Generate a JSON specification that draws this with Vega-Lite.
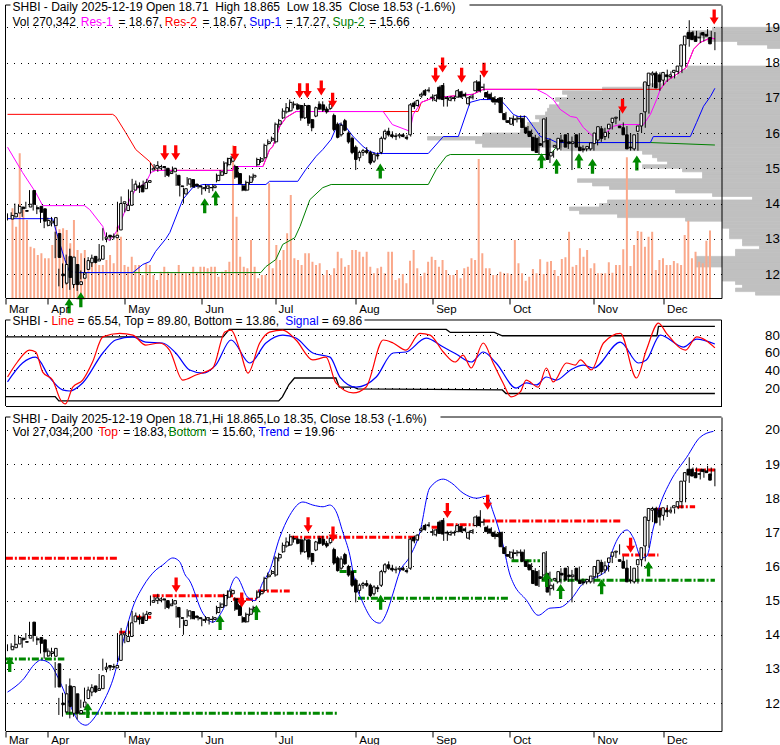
{
"$schema": "https://vega.github.io/schema/vega-lite/v6.json",
"autosize": {"type": "pad"},
"padding": {"left": 2.5, "top": 1, "right": 0, "bottom": 0},
"background": "white",
"spacing": 11,
"bounds": "flush",
"config": {
 "view": {"stroke": null},
 "axis": {"domainColor": "black", "tickColor": "black", "labelColor": "black", "labelFont": "Liberation Sans", "gridColor": "black", "gridDash": [1, 6], "gridOpacity": 1, "gridWidth": 1, "domainWidth": 1},
 "text": {"font": "Liberation Sans", "fontSize": 12}
},
"datasets": {
"d": [
{"i":0,"o":13.56,"h":13.72,"l":13.52,"c":13.66,"v":359},
{"i":1,"o":13.62,"h":13.75,"l":13.6,"c":13.72,"v":285},
{"i":2,"o":13.73,"h":14.0,"l":13.7,"c":13.92,"v":579},
{"i":3,"o":13.9,"h":13.98,"l":13.82,"c":13.85,"v":352},
{"i":4,"o":13.8,"h":13.85,"l":13.62,"c":13.78,"v":312},
{"i":5,"o":13.9,"h":14.05,"l":13.85,"c":13.98,"v":205},
{"i":6,"o":14.37,"h":14.38,"l":13.9,"c":13.98,"v":199},
{"i":7,"o":13.88,"h":14.0,"l":13.8,"c":13.85,"v":172},
{"i":8,"o":13.92,"h":13.95,"l":13.7,"c":13.75,"v":179},
{"i":9,"o":13.85,"h":13.9,"l":13.45,"c":13.5,"v":159},
{"i":10,"o":13.38,"h":13.55,"l":13.3,"c":13.52,"v":159},
{"i":11,"o":13.45,"h":13.6,"l":13.35,"c":13.5,"v":212},
{"i":12,"o":13.37,"h":13.62,"l":13.35,"c":13.6,"v":285},
{"i":13,"o":13.15,"h":13.2,"l":12.45,"c":12.47,"v":275},
{"i":14,"o":12.0,"h":12.15,"l":11.65,"c":11.95,"v":279},
{"i":15,"o":11.74,"h":12.3,"l":11.6,"c":12.27,"v":272},
{"i":16,"o":12.5,"h":12.55,"l":11.7,"c":11.9,"v":219},
{"i":17,"o":11.7,"h":12.72,"l":11.55,"c":12.48,"v":312},
{"i":18,"o":12.27,"h":12.35,"l":11.6,"c":11.7,"v":192},
{"i":19,"o":11.7,"h":11.8,"l":11.52,"c":11.78,"v":179},
{"i":20,"o":11.88,"h":12.1,"l":11.85,"c":12.03,"v":192},
{"i":21,"o":12.13,"h":12.45,"l":12.05,"c":12.38,"v":132},
{"i":22,"o":12.32,"h":12.48,"l":12.25,"c":12.45,"v":152},
{"i":23,"o":12.5,"h":12.55,"l":12.2,"c":12.33,"v":139},
{"i":24,"o":12.37,"h":12.45,"l":12.3,"c":12.42,"v":132},
{"i":25,"o":12.42,"h":12.85,"l":12.4,"c":12.8,"v":132},
{"i":26,"o":13.0,"h":13.3,"l":12.95,"c":13.05,"v":152},
{"i":27,"o":13.1,"h":13.18,"l":12.9,"c":13.05,"v":172},
{"i":28,"o":13.05,"h":13.1,"l":12.95,"c":13.07,"v":139},
{"i":29,"o":13.03,"h":13.15,"l":12.98,"c":13.1,"v":285},
{"i":30,"o":13.25,"h":14.05,"l":13.2,"c":14.0,"v":245},
{"i":31,"o":14.0,"h":14.2,"l":13.9,"c":14.05,"v":132},
{"i":32,"o":13.8,"h":14.0,"l":13.75,"c":13.95,"v":125},
{"i":33,"o":13.95,"h":14.4,"l":13.9,"c":14.35,"v":165},
{"i":34,"o":14.38,"h":14.7,"l":14.35,"c":14.55,"v":132},
{"i":35,"o":14.5,"h":14.65,"l":14.4,"c":14.45,"v":132},
{"i":36,"o":14.52,"h":14.6,"l":14.3,"c":14.33,"v":92},
{"i":37,"o":14.42,"h":14.65,"l":14.4,"c":14.6,"v":139},
{"i":38,"o":14.6,"h":14.7,"l":14.55,"c":14.65,"v":132},
{"i":39,"o":14.95,"h":15.15,"l":14.85,"c":15.0,"v":92},
{"i":40,"o":15.0,"h":15.12,"l":14.95,"c":15.08,"v":72},
{"i":41,"o":15.0,"h":15.2,"l":14.9,"c":15.05,"v":105},
{"i":42,"o":15.05,"h":15.1,"l":14.95,"c":15.02,"v":125},
{"i":43,"o":15.0,"h":15.05,"l":14.75,"c":14.8,"v":105},
{"i":44,"o":14.85,"h":14.95,"l":14.75,"c":14.9,"v":99},
{"i":45,"o":14.9,"h":15.05,"l":14.85,"c":15.0,"v":99},
{"i":46,"o":14.8,"h":14.85,"l":14.5,"c":14.52,"v":132},
{"i":47,"o":14.5,"h":14.55,"l":14.2,"c":14.48,"v":99},
{"i":48,"o":14.27,"h":14.45,"l":14.0,"c":14.42,"v":99},
{"i":49,"o":14.55,"h":14.75,"l":14.5,"c":14.7,"v":99},
{"i":50,"o":14.68,"h":14.7,"l":14.45,"c":14.47,"v":125},
{"i":51,"o":14.55,"h":14.6,"l":14.45,"c":14.5,"v":105},
{"i":52,"o":14.5,"h":14.55,"l":14.42,"c":14.47,"v":125},
{"i":53,"o":14.42,"h":14.5,"l":14.25,"c":14.45,"v":125},
{"i":54,"o":14.43,"h":14.55,"l":14.35,"c":14.5,"v":119},
{"i":55,"o":14.45,"h":14.52,"l":14.3,"c":14.45,"v":125},
{"i":56,"o":14.45,"h":14.55,"l":14.35,"c":14.5,"v":125},
{"i":57,"o":14.65,"h":14.85,"l":14.6,"c":14.8,"v":85},
{"i":58,"o":14.8,"h":14.95,"l":14.78,"c":14.9,"v":105},
{"i":59,"o":14.85,"h":15.2,"l":14.8,"c":15.15,"v":112},
{"i":60,"o":15.1,"h":15.3,"l":15.05,"c":15.28,"v":145},
{"i":61,"o":15.2,"h":15.35,"l":15.15,"c":15.3,"v":610},
{"i":62,"o":15.05,"h":15.1,"l":14.7,"c":14.75,"v":325},
{"i":63,"o":14.85,"h":14.9,"l":14.55,"c":14.57,"v":165},
{"i":64,"o":14.5,"h":14.55,"l":14.35,"c":14.38,"v":125},
{"i":65,"o":14.38,"h":14.65,"l":14.35,"c":14.6,"v":119},
{"i":66,"o":14.6,"h":14.8,"l":14.55,"c":14.75,"v":232},
{"i":67,"o":14.75,"h":14.85,"l":14.65,"c":14.8,"v":125},
{"i":68,"o":15.1,"h":15.3,"l":15.05,"c":15.25,"v":79},
{"i":69,"o":15.2,"h":15.32,"l":15.15,"c":15.27,"v":92},
{"i":70,"o":15.3,"h":15.7,"l":15.25,"c":15.65,"v":92},
{"i":71,"o":15.7,"h":15.82,"l":15.65,"c":15.75,"v":459},
{"i":72,"o":15.8,"h":15.9,"l":15.75,"c":15.85,"v":119},
{"i":73,"o":15.75,"h":16.3,"l":15.7,"c":16.25,"v":212},
{"i":74,"o":16.25,"h":16.4,"l":16.15,"c":16.35,"v":152},
{"i":75,"o":16.43,"h":16.7,"l":16.4,"c":16.62,"v":192},
{"i":76,"o":16.6,"h":16.85,"l":16.55,"c":16.72,"v":259},
{"i":77,"o":16.63,"h":16.95,"l":16.6,"c":16.87,"v":412},
{"i":78,"o":16.8,"h":16.9,"l":16.7,"c":16.82,"v":159},
{"i":79,"o":16.8,"h":16.85,"l":16.65,"c":16.68,"v":152},
{"i":80,"o":16.78,"h":16.8,"l":16.35,"c":16.43,"v":132},
{"i":81,"o":16.43,"h":16.85,"l":16.4,"c":16.78,"v":179},
{"i":82,"o":16.78,"h":16.8,"l":16.2,"c":16.28,"v":179},
{"i":83,"o":16.38,"h":16.4,"l":16.05,"c":16.15,"v":145},
{"i":84,"o":16.48,"h":16.75,"l":16.45,"c":16.72,"v":132},
{"i":85,"o":16.82,"h":16.9,"l":16.65,"c":16.68,"v":139},
{"i":86,"o":16.8,"h":16.9,"l":16.6,"c":16.65,"v":92},
{"i":87,"o":16.68,"h":16.75,"l":16.55,"c":16.6,"v":112},
{"i":88,"o":16.7,"h":16.88,"l":16.65,"c":16.82,"v":92},
{"i":89,"o":16.5,"h":16.55,"l":16.05,"c":16.1,"v":119},
{"i":90,"o":16.25,"h":16.3,"l":15.85,"c":15.88,"v":185},
{"i":91,"o":15.95,"h":16.3,"l":15.9,"c":16.22,"v":159},
{"i":92,"o":16.35,"h":16.4,"l":16.05,"c":16.08,"v":125},
{"i":93,"o":16.0,"h":16.05,"l":15.7,"c":15.75,"v":132},
{"i":94,"o":15.85,"h":15.9,"l":15.4,"c":15.45,"v":192},
{"i":95,"o":15.6,"h":15.65,"l":14.95,"c":15.25,"v":192},
{"i":96,"o":15.3,"h":15.5,"l":15.2,"c":15.45,"v":185},
{"i":97,"o":15.45,"h":15.55,"l":15.35,"c":15.5,"v":165},
{"i":98,"o":15.5,"h":15.6,"l":15.4,"c":15.45,"v":185},
{"i":99,"o":15.45,"h":15.5,"l":15.1,"c":15.15,"v":125},
{"i":100,"o":15.2,"h":15.45,"l":15.15,"c":15.4,"v":99},
{"i":101,"o":15.38,"h":15.45,"l":15.25,"c":15.35,"v":119},
{"i":102,"o":15.45,"h":15.9,"l":15.4,"c":15.85,"v":125},
{"i":103,"o":15.85,"h":16.1,"l":15.8,"c":16.05,"v":99},
{"i":104,"o":16.05,"h":16.15,"l":15.9,"c":15.95,"v":185},
{"i":105,"o":15.95,"h":16.05,"l":15.85,"c":15.9,"v":185},
{"i":106,"o":15.9,"h":16.0,"l":15.8,"c":15.92,"v":72},
{"i":107,"o":15.92,"h":15.97,"l":15.85,"c":15.95,"v":79},
{"i":108,"o":15.95,"h":16.0,"l":15.88,"c":15.9,"v":96},
{"i":109,"o":15.88,"h":15.95,"l":15.8,"c":15.85,"v":59},
{"i":110,"o":15.95,"h":16.85,"l":15.9,"c":16.8,"v":149},
{"i":111,"o":16.85,"h":16.9,"l":16.68,"c":16.75,"v":192},
{"i":112,"o":16.78,"h":16.95,"l":16.75,"c":16.92,"v":119},
{"i":113,"o":17.05,"h":17.15,"l":17.0,"c":17.1,"v":88},
{"i":114,"o":17.2,"h":17.25,"l":17.05,"c":17.08,"v":101},
{"i":115,"o":17.2,"h":17.3,"l":17.15,"c":17.22,"v":145},
{"i":116,"o":17.0,"h":17.1,"l":16.9,"c":17.02,"v":165},
{"i":117,"o":16.93,"h":17.1,"l":16.88,"c":17.07,"v":152},
{"i":118,"o":17.3,"h":17.35,"l":16.95,"c":16.97,"v":125},
{"i":119,"o":17.35,"h":17.42,"l":16.75,"c":16.95,"v":152},
{"i":120,"o":17.0,"h":17.05,"l":16.75,"c":16.98,"v":112},
{"i":121,"o":16.93,"h":17.05,"l":16.9,"c":17.0,"v":92},
{"i":122,"o":17.0,"h":17.05,"l":16.9,"c":16.98,"v":92},
{"i":123,"o":17.02,"h":17.25,"l":17.0,"c":17.2,"v":112},
{"i":124,"o":17.17,"h":17.2,"l":16.98,"c":17.02,"v":79},
{"i":125,"o":17.1,"h":17.15,"l":17.0,"c":17.05,"v":119},
{"i":126,"o":16.83,"h":17.05,"l":16.78,"c":17.0,"v":125},
{"i":127,"o":17.0,"h":17.1,"l":16.95,"c":17.05,"v":159},
{"i":128,"o":17.2,"h":17.5,"l":17.15,"c":17.45,"v":152},
{"i":129,"o":17.45,"h":17.65,"l":17.15,"c":17.2,"v":556},
{"i":130,"o":17.3,"h":17.4,"l":17.2,"c":17.3,"v":179},
{"i":131,"o":17.15,"h":17.2,"l":16.95,"c":17.02,"v":119},
{"i":132,"o":17.1,"h":17.15,"l":16.9,"c":16.98,"v":119},
{"i":133,"o":17.0,"h":17.05,"l":16.8,"c":16.88,"v":92},
{"i":134,"o":16.95,"h":17.0,"l":16.85,"c":16.88,"v":92},
{"i":135,"o":17.0,"h":17.02,"l":16.55,"c":16.58,"v":105},
{"i":136,"o":16.55,"h":16.6,"l":16.3,"c":16.38,"v":99},
{"i":137,"o":16.35,"h":16.45,"l":16.25,"c":16.3,"v":99},
{"i":138,"o":16.25,"h":16.5,"l":16.2,"c":16.42,"v":96},
{"i":139,"o":16.38,"h":16.48,"l":16.3,"c":16.4,"v":232},
{"i":140,"o":16.4,"h":16.5,"l":16.3,"c":16.42,"v":139},
{"i":141,"o":16.42,"h":16.5,"l":16.1,"c":16.15,"v":99},
{"i":142,"o":16.15,"h":16.2,"l":15.95,"c":16.0,"v":69},
{"i":143,"o":16.05,"h":16.1,"l":15.85,"c":15.9,"v":85},
{"i":144,"o":15.88,"h":15.95,"l":15.45,"c":15.5,"v":116},
{"i":145,"o":15.85,"h":15.9,"l":15.4,"c":15.45,"v":99},
{"i":146,"o":15.7,"h":15.85,"l":15.6,"c":15.65,"v":155},
{"i":147,"o":15.75,"h":16.45,"l":15.7,"c":16.4,"v":96},
{"i":148,"o":15.8,"h":15.85,"l":15.15,"c":15.25,"v":145},
{"i":149,"o":15.35,"h":15.5,"l":15.3,"c":15.45,"v":148},
{"i":150,"o":15.6,"h":15.7,"l":15.5,"c":15.65,"v":112},
{"i":151,"o":15.55,"h":15.95,"l":15.5,"c":15.85,"v":88},
{"i":152,"o":15.8,"h":15.9,"l":15.7,"c":15.75,"v":156},
{"i":153,"o":15.95,"h":16.0,"l":15.55,"c":15.6,"v":163},
{"i":154,"o":15.75,"h":15.9,"l":14.95,"c":15.7,"v":265},
{"i":155,"o":15.7,"h":15.85,"l":15.6,"c":15.75,"v":125},
{"i":156,"o":15.95,"h":16.0,"l":15.55,"c":15.6,"v":132},
{"i":157,"o":15.6,"h":15.65,"l":15.45,"c":15.5,"v":199},
{"i":158,"o":15.55,"h":15.6,"l":15.48,"c":15.52,"v":165},
{"i":159,"o":15.55,"h":15.7,"l":15.5,"c":15.62,"v":192},
{"i":160,"o":15.55,"h":15.75,"l":15.5,"c":15.72,"v":119},
{"i":161,"o":15.7,"h":16.05,"l":15.65,"c":16.0,"v":139},
{"i":162,"o":15.8,"h":16.2,"l":15.75,"c":16.18,"v":99},
{"i":163,"o":16.12,"h":16.15,"l":15.8,"c":15.85,"v":99},
{"i":164,"o":15.9,"h":16.05,"l":15.85,"c":16.02,"v":99},
{"i":165,"o":16.12,"h":16.3,"l":16.1,"c":16.25,"v":143},
{"i":166,"o":16.3,"h":16.45,"l":16.25,"c":16.42,"v":101},
{"i":167,"o":16.42,"h":16.65,"l":16.35,"c":16.45,"v":132},
{"i":168,"o":16.2,"h":16.3,"l":16.1,"c":16.15,"v":132},
{"i":169,"o":16.15,"h":16.2,"l":15.9,"c":15.95,"v":195},
{"i":170,"o":15.95,"h":16.0,"l":15.5,"c":15.55,"v":563},
{"i":171,"o":15.6,"h":15.65,"l":15.5,"c":15.58,"v":128},
{"i":172,"o":15.55,"h":16.0,"l":15.5,"c":15.95,"v":212},
{"i":173,"o":16.05,"h":16.3,"l":16.0,"c":16.2,"v":268},
{"i":174,"o":16.2,"h":16.65,"l":16.15,"c":16.55,"v":265},
{"i":175,"o":16.6,"h":17.5,"l":16.55,"c":17.45,"v":205},
{"i":176,"o":17.35,"h":17.75,"l":17.3,"c":17.7,"v":245},
{"i":177,"o":17.65,"h":17.75,"l":17.55,"c":17.7,"v":265},
{"i":178,"o":17.7,"h":17.72,"l":17.2,"c":17.28,"v":112},
{"i":179,"o":17.65,"h":17.7,"l":17.35,"c":17.45,"v":152},
{"i":180,"o":17.5,"h":17.8,"l":17.45,"c":17.72,"v":159},
{"i":181,"o":17.65,"h":17.75,"l":17.55,"c":17.6,"v":132},
{"i":182,"o":17.6,"h":17.7,"l":17.55,"c":17.65,"v":132},
{"i":183,"o":17.72,"h":17.85,"l":17.68,"c":17.78,"v":148},
{"i":184,"o":17.75,"h":18.0,"l":17.7,"c":17.9,"v":139},
{"i":185,"o":17.9,"h":18.55,"l":17.88,"c":18.5,"v":132},
{"i":186,"o":18.5,"h":19.2,"l":18.45,"c":18.75,"v":252},
{"i":187,"o":18.85,"h":18.9,"l":18.65,"c":18.68,"v":309},
{"i":188,"o":18.85,"h":18.9,"l":18.6,"c":18.65,"v":159},
{"i":189,"o":18.75,"h":18.85,"l":18.55,"c":18.6,"v":185},
{"i":190,"o":18.7,"h":18.8,"l":18.6,"c":18.72,"v":145},
{"i":191,"o":18.85,"h":18.95,"l":18.75,"c":18.78,"v":139},
{"i":192,"o":18.8,"h":18.9,"l":18.65,"c":18.75,"v":229},
{"i":193,"o":18.71,"h":18.865,"l":18.35,"c":18.53,"v":270}
],
"prof": [
{"p1":18.9,"p2":19.0,"len":70},{"p1":18.8,"p2":18.9,"len":95},{"p1":18.7,"p2":18.8,"len":95},{"p1":18.6,"p2":18.7,"len":75},{"p1":18.5,"p2":18.6,"len":45},{"p1":18.4,"p2":18.5,"len":15},
{"p1":17.8,"p2":17.9,"len":95},{"p1":17.7,"p2":17.8,"len":100},{"p1":17.6,"p2":17.7,"len":105},{"p1":17.5,"p2":17.6,"len":115},{"p1":17.4,"p2":17.5,"len":120},{"p1":17.3,"p2":17.4,"len":140},{"p1":17.2,"p2":17.3,"len":180},{"p1":17.1,"p2":17.2,"len":220},{"p1":17.0,"p2":17.1,"len":215},{"p1":16.9,"p2":17.0,"len":227},{"p1":16.8,"p2":16.9,"len":223},{"p1":16.7,"p2":16.8,"len":233},{"p1":16.6,"p2":16.7,"len":235},{"p1":16.5,"p2":16.6,"len":237},{"p1":16.4,"p2":16.5,"len":247},{"p1":16.3,"p2":16.4,"len":243},{"p1":16.2,"p2":16.3,"len":255},{"p1":16.1,"p2":16.2,"len":258},{"p1":16.0,"p2":16.1,"len":262},{"p1":15.9,"p2":16.0,"len":300},{"p1":15.8,"p2":15.9,"len":355},{"p1":15.7,"p2":15.8,"len":307},{"p1":15.6,"p2":15.7,"len":300},{"p1":15.5,"p2":15.6,"len":220},{"p1":15.4,"p2":15.5,"len":140},{"p1":15.3,"p2":15.4,"len":130},{"p1":15.2,"p2":15.3,"len":125},{"p1":15.1,"p2":15.2,"len":115},{"p1":15.0,"p2":15.1,"len":140},{"p1":14.9,"p2":15.0,"len":100},{"p1":14.8,"p2":14.9,"len":80},{"p1":14.7,"p2":14.8,"len":80},{"p1":14.6,"p2":14.7,"len":205},{"p1":14.5,"p2":14.6,"len":190},{"p1":14.4,"p2":14.5,"len":173},{"p1":14.3,"p2":14.4,"len":107},{"p1":14.2,"p2":14.3,"len":70},{"p1":14.1,"p2":14.2,"len":30},{"p1":14.0,"p2":14.1,"len":175},{"p1":13.9,"p2":14.0,"len":183},{"p1":13.8,"p2":13.9,"len":213},{"p1":13.7,"p2":13.8,"len":203},{"p1":13.6,"p2":13.7,"len":165},{"p1":13.5,"p2":13.6,"len":97},{"p1":13.4,"p2":13.5,"len":60},{"p1":13.3,"p2":13.4,"len":60},{"p1":13.2,"p2":13.3,"len":53},{"p1":13.1,"p2":13.2,"len":53},{"p1":13.0,"p2":13.1,"len":53},{"p1":12.9,"p2":13.0,"len":40},{"p1":12.8,"p2":12.9,"len":40},{"p1":12.7,"p2":12.8,"len":23},{"p1":12.6,"p2":12.7,"len":47},{"p1":12.5,"p2":12.6,"len":47},{"p1":12.4,"p2":12.5,"len":87},{"p1":12.3,"p2":12.4,"len":87},{"p1":12.2,"p2":12.3,"len":87},{"p1":12.1,"p2":12.2,"len":60},{"p1":12.0,"p2":12.1,"len":60},{"p1":11.9,"p2":12.0,"len":60},{"p1":11.8,"p2":11.9,"len":60},{"p1":11.7,"p2":11.8,"len":47},{"p1":11.6,"p2":11.7,"len":40},{"p1":11.5,"p2":11.6,"len":47},{"p1":11.4,"p2":11.5,"len":27}
],
"ind": [
{"i":0,"p":15.6,"s":"Res-1"},{"i":4.1,"p":14.88,"s":"Res-1"},{"i":7.7,"p":14.31,"s":"Res-1"},{"i":9.6,"p":13.94,"s":"Res-1"},{"i":21,"p":13.94,"s":"Res-1"},{"i":22.4,"p":13.83,"s":"Res-1"},{"i":26,"p":13.35,"s":"Res-1"},{"i":26.8,"p":13.03,"s":"Res-1"},{"i":27.8,"p":12.95,"s":"Res-1"},{"i":29.2,"p":13.12,"s":"Res-1"},{"i":30,"p":13.26,"s":"Res-1"},{"i":33.3,"p":14.11,"s":"Res-1"},{"i":35,"p":14.4,"s":"Res-1"},{"i":37.8,"p":14.6,"s":"Res-1"},{"i":39.1,"p":14.88,"s":"Res-1"},{"i":40.5,"p":14.94,"s":"Res-1"},{"i":61.5,"p":14.94,"s":"Res-1"},{"i":61.7,"p":15.05,"s":"Res-1"},{"i":69.7,"p":15.05,"s":"Res-1"},{"i":71.5,"p":15.53,"s":"Res-1"},{"i":72.4,"p":15.62,"s":"Res-1"},{"i":74.3,"p":16.19,"s":"Res-1"},{"i":76,"p":16.44,"s":"Res-1"},{"i":78.7,"p":16.61,"s":"Res-1"},{"i":102.5,"p":16.61,"s":"Res-1"},{"i":105,"p":16.24,"s":"Res-1"},{"i":109.8,"p":16.05,"s":"Res-1"},{"i":110.7,"p":16.53,"s":"Res-1"},{"i":112.9,"p":16.87,"s":"Res-1"},{"i":116.1,"p":17.0,"s":"Res-1"},{"i":127,"p":17.1,"s":"Res-1"},{"i":129.8,"p":17.24,"s":"Res-1"},{"i":144.3,"p":17.24,"s":"Res-1"},{"i":147,"p":17.1,"s":"Res-1"},{"i":148.9,"p":16.95,"s":"Res-1"},{"i":150.8,"p":16.67,"s":"Res-1"},{"i":153.6,"p":16.47,"s":"Res-1"},{"i":155.3,"p":16.44,"s":"Res-1"},{"i":157.1,"p":16.16,"s":"Res-1"},{"i":159.8,"p":15.9,"s":"Res-1"},{"i":161.7,"p":15.88,"s":"Res-1"},{"i":163.4,"p":16.02,"s":"Res-1"},{"i":165.3,"p":16.19,"s":"Res-1"},{"i":167.2,"p":16.24,"s":"Res-1"},{"i":173.5,"p":16.24,"s":"Res-1"},{"i":175.4,"p":16.53,"s":"Res-1"},{"i":177.1,"p":16.95,"s":"Res-1"},{"i":178.1,"p":17.24,"s":"Res-1"},{"i":179.8,"p":17.47,"s":"Res-1"},{"i":182.5,"p":17.66,"s":"Res-1"},{"i":185.2,"p":17.86,"s":"Res-1"},{"i":187.2,"p":18.38,"s":"Res-1"},{"i":189,"p":18.57,"s":"Res-1"},{"i":191.8,"p":18.7,"s":"Res-1"},{"i":193,"p":18.67,"s":"Res-1"},
{"i":0,"p":16.53,"s":"Res-2"},{"i":28.7,"p":16.53,"s":"Res-2"},{"i":29.5,"p":16.47,"s":"Res-2"},{"i":32.2,"p":16.02,"s":"Res-2"},{"i":35,"p":15.53,"s":"Res-2"},{"i":38.8,"p":15.19,"s":"Res-2"},{"i":40.2,"p":14.97,"s":"Res-2"},{"i":40.5,"p":14.94,"s":"Res-2"},{"i":61.5,"p":14.94,"s":"Res-2"},{"i":61.7,"p":15.05,"s":"Res-2"},{"i":69.7,"p":15.05,"s":"Res-2"},{"i":71.5,"p":15.53,"s":"Res-2"},{"i":72.4,"p":15.62,"s":"Res-2"},{"i":74.3,"p":16.19,"s":"Res-2"},{"i":76,"p":16.44,"s":"Res-2"},{"i":78.7,"p":16.61,"s":"Res-2"},{"i":112,"p":16.61,"s":"Res-2"},{"i":112.9,"p":16.87,"s":"Res-2"},{"i":116.1,"p":17.0,"s":"Res-2"},{"i":127,"p":17.1,"s":"Res-2"},{"i":129.8,"p":17.24,"s":"Res-2"},{"i":178.1,"p":17.24,"s":"Res-2"},{"i":179.8,"p":17.47,"s":"Res-2"},{"i":182.5,"p":17.66,"s":"Res-2"},{"i":185.2,"p":17.86,"s":"Res-2"},{"i":187.2,"p":18.38,"s":"Res-2"},{"i":189,"p":18.57,"s":"Res-2"},{"i":191.8,"p":18.7,"s":"Res-2"},{"i":193,"p":18.67,"s":"Res-2"},
{"i":0,"p":13.57,"s":"Sup-1"},{"i":12.3,"p":13.57,"s":"Sup-1"},{"i":13.7,"p":13.06,"s":"Sup-1"},{"i":15.6,"p":12.41,"s":"Sup-1"},{"i":16.9,"p":12.07,"s":"Sup-1"},{"i":19.7,"p":12.04,"s":"Sup-1"},{"i":34.2,"p":12.04,"s":"Sup-1"},{"i":36.9,"p":12.27,"s":"Sup-1"},{"i":38.8,"p":12.35,"s":"Sup-1"},{"i":40.4,"p":12.64,"s":"Sup-1"},{"i":43.2,"p":13.0,"s":"Sup-1"},{"i":44.3,"p":13.18,"s":"Sup-1"},{"i":47.8,"p":14.11,"s":"Sup-1"},{"i":50.5,"p":14.45,"s":"Sup-1"},{"i":53.3,"p":14.54,"s":"Sup-1"},{"i":70.5,"p":14.54,"s":"Sup-1"},{"i":71.5,"p":14.63,"s":"Sup-1"},{"i":79.2,"p":14.63,"s":"Sup-1"},{"i":81.4,"p":14.97,"s":"Sup-1"},{"i":84.2,"p":15.34,"s":"Sup-1"},{"i":86,"p":15.53,"s":"Sup-1"},{"i":88.3,"p":15.82,"s":"Sup-1"},{"i":89.7,"p":16.16,"s":"Sup-1"},{"i":90.6,"p":16.27,"s":"Sup-1"},{"i":92.4,"p":16.16,"s":"Sup-1"},{"i":94.3,"p":15.9,"s":"Sup-1"},{"i":97,"p":15.62,"s":"Sup-1"},{"i":98.8,"p":15.48,"s":"Sup-1"},{"i":100.6,"p":15.42,"s":"Sup-1"},{"i":114.8,"p":15.42,"s":"Sup-1"},{"i":118.9,"p":15.9,"s":"Sup-1"},{"i":123,"p":15.9,"s":"Sup-1"},{"i":126.2,"p":16.87,"s":"Sup-1"},{"i":129,"p":16.95,"s":"Sup-1"},{"i":134.4,"p":16.95,"s":"Sup-1"},{"i":136.1,"p":16.76,"s":"Sup-1"},{"i":138,"p":16.53,"s":"Sup-1"},{"i":139.3,"p":16.47,"s":"Sup-1"},{"i":141.5,"p":16.47,"s":"Sup-1"},{"i":143.4,"p":16.19,"s":"Sup-1"},{"i":145.4,"p":15.9,"s":"Sup-1"},{"i":148.1,"p":15.82,"s":"Sup-1"},{"i":149.9,"p":15.73,"s":"Sup-1"},{"i":175.4,"p":15.73,"s":"Sup-1"},{"i":176.2,"p":15.9,"s":"Sup-1"},{"i":186.3,"p":15.9,"s":"Sup-1"},{"i":188,"p":16.3,"s":"Sup-1"},{"i":189.9,"p":16.76,"s":"Sup-1"},{"i":191.8,"p":17.04,"s":"Sup-1"},{"i":193,"p":17.27,"s":"Sup-1"},
{"i":19.7,"p":12.04,"s":"Sup-2"},{"i":69.1,"p":12.04,"s":"Sup-2"},{"i":70.5,"p":12.21,"s":"Sup-2"},{"i":73.2,"p":12.41,"s":"Sup-2"},{"i":75.1,"p":12.84,"s":"Sup-2"},{"i":78.4,"p":13.03,"s":"Sup-2"},{"i":79.8,"p":13.35,"s":"Sup-2"},{"i":82.5,"p":14.11,"s":"Sup-2"},{"i":86,"p":14.45,"s":"Sup-2"},{"i":88.3,"p":14.54,"s":"Sup-2"},{"i":114.8,"p":14.54,"s":"Sup-2"},{"i":117,"p":14.97,"s":"Sup-2"},{"i":119.7,"p":15.34,"s":"Sup-2"},{"i":120.8,"p":15.39,"s":"Sup-2"},{"i":148.1,"p":15.39,"s":"Sup-2"},{"i":150.8,"p":15.73,"s":"Sup-2"},{"i":175.4,"p":15.73,"s":"Sup-2"},{"i":193,"p":15.66,"s":"Sup-2"}
],
"arrT": [
{"i":79.7,"p":17.2,"dir":"down"},{"i":81.8,"p":17.2,"dir":"down"},{"i":85.6,"p":17.28,"dir":"down"},{"i":88.7,"p":16.93,"dir":"down"},{"i":42.9,"p":15.44,"dir":"down"},{"i":45.9,"p":15.44,"dir":"down"},{"i":62,"p":15.42,"dir":"down"},{"i":116.8,"p":17.64,"dir":"down"},{"i":118.7,"p":17.93,"dir":"down"},{"i":123.9,"p":17.64,"dir":"down"},{"i":130,"p":17.78,"dir":"down"},{"i":167.8,"p":16.76,"dir":"down"},{"i":192.8,"p":19.29,"dir":"down"},
{"i":16.8,"p":11.1,"dir":"up"},{"i":20,"p":11.27,"dir":"up"},{"i":53.8,"p":13.94,"dir":"up"},{"i":56.8,"p":14.16,"dir":"up"},{"i":101.7,"p":14.92,"dir":"up"},{"i":145.7,"p":15.21,"dir":"up"},{"i":149.8,"p":15.06,"dir":"up"},{"i":155.9,"p":15.21,"dir":"up"},{"i":159.6,"p":15.06,"dir":"up"},{"i":171.7,"p":15.15,"dir":"up"}
],
"osc": [
{"i":0,"v":32.5,"s":"Line"},{"i":2.7,"v":49.5,"s":"Line"},{"i":6,"v":63,"s":"Line"},{"i":7.7,"v":60.8,"s":"Line"},{"i":9.6,"v":38,"s":"Line"},{"i":12.3,"v":29,"s":"Line"},{"i":14.5,"v":6.5,"s":"Line"},{"i":15.8,"v":2,"s":"Line"},{"i":17.8,"v":21,"s":"Line"},{"i":20.5,"v":29,"s":"Line"},{"i":23.2,"v":49.5,"s":"Line"},{"i":26,"v":78,"s":"Line"},{"i":30.6,"v":82,"s":"Line"},{"i":34.2,"v":80,"s":"Line"},{"i":37.7,"v":68.7,"s":"Line"},{"i":41.5,"v":71,"s":"Line"},{"i":44.2,"v":63,"s":"Line"},{"i":47.8,"v":29,"s":"Line"},{"i":51.4,"v":34.8,"s":"Line"},{"i":56,"v":42.7,"s":"Line"},{"i":59.3,"v":83.4,"s":"Line"},{"i":61,"v":85.6,"s":"Line"},{"i":63.4,"v":63,"s":"Line"},{"i":65.6,"v":37,"s":"Line"},{"i":68.8,"v":71,"s":"Line"},{"i":71.5,"v":83.4,"s":"Line"},{"i":75.1,"v":85.6,"s":"Line"},{"i":78.7,"v":74.4,"s":"Line"},{"i":83.3,"v":51.8,"s":"Line"},{"i":86.9,"v":55,"s":"Line"},{"i":89.6,"v":25.8,"s":"Line"},{"i":94.3,"v":14.5,"s":"Line"},{"i":97.8,"v":21,"s":"Line"},{"i":102.5,"v":74.4,"s":"Line"},{"i":105.2,"v":71,"s":"Line"},{"i":108.7,"v":63,"s":"Line"},{"i":112.5,"v":82,"s":"Line"},{"i":115.3,"v":80,"s":"Line"},{"i":118.9,"v":60.8,"s":"Line"},{"i":122.1,"v":49.5,"s":"Line"},{"i":124.3,"v":57.4,"s":"Line"},{"i":126.5,"v":42.7,"s":"Line"},{"i":129.8,"v":71,"s":"Line"},{"i":132.5,"v":48.4,"s":"Line"},{"i":135.2,"v":25.8,"s":"Line"},{"i":137.4,"v":10,"s":"Line"},{"i":139.9,"v":15.6,"s":"Line"},{"i":141.5,"v":29,"s":"Line"},{"i":144.8,"v":21,"s":"Line"},{"i":147,"v":42.7,"s":"Line"},{"i":148.9,"v":26.9,"s":"Line"},{"i":152.5,"v":48.4,"s":"Line"},{"i":154.9,"v":46,"s":"Line"},{"i":156.3,"v":51.8,"s":"Line"},{"i":159.3,"v":40.5,"s":"Line"},{"i":162.6,"v":71,"s":"Line"},{"i":167.2,"v":82,"s":"Line"},{"i":171.6,"v":31.4,"s":"Line"},{"i":174.3,"v":63,"s":"Line"},{"i":177.6,"v":93.6,"s":"Line"},{"i":179.8,"v":82,"s":"Line"},{"i":185,"v":63,"s":"Line"},{"i":188,"v":78,"s":"Line"},{"i":193,"v":65.54,"s":"Line"},
{"i":0,"v":27,"s":"Signal"},{"i":4.1,"v":48.4,"s":"Signal"},{"i":7.7,"v":55,"s":"Signal"},{"i":11.4,"v":32.5,"s":"Signal"},{"i":15,"v":17.9,"s":"Signal"},{"i":16.9,"v":16.7,"s":"Signal"},{"i":20.5,"v":25.8,"s":"Signal"},{"i":26,"v":59.7,"s":"Signal"},{"i":29.5,"v":74.4,"s":"Signal"},{"i":34.2,"v":78,"s":"Signal"},{"i":37.7,"v":72,"s":"Signal"},{"i":42.3,"v":71,"s":"Signal"},{"i":45.9,"v":59.7,"s":"Signal"},{"i":49.7,"v":40.5,"s":"Signal"},{"i":53.3,"v":37,"s":"Signal"},{"i":56.8,"v":46,"s":"Signal"},{"i":61,"v":74.4,"s":"Signal"},{"i":66.1,"v":48.4,"s":"Signal"},{"i":70.5,"v":71,"s":"Signal"},{"i":75.1,"v":80,"s":"Signal"},{"i":78.7,"v":76.6,"s":"Signal"},{"i":83.3,"v":59.7,"s":"Signal"},{"i":88,"v":55,"s":"Signal"},{"i":90.7,"v":32.5,"s":"Signal"},{"i":95.1,"v":21,"s":"Signal"},{"i":100.6,"v":32.5,"s":"Signal"},{"i":105.2,"v":59.7,"s":"Signal"},{"i":108.7,"v":60.8,"s":"Signal"},{"i":114.2,"v":76.6,"s":"Signal"},{"i":118.9,"v":66.4,"s":"Signal"},{"i":122.4,"v":58.5,"s":"Signal"},{"i":126.5,"v":49.5,"s":"Signal"},{"i":129.8,"v":60.8,"s":"Signal"},{"i":133.3,"v":48.4,"s":"Signal"},{"i":138.8,"v":20,"s":"Signal"},{"i":141.5,"v":25.8,"s":"Signal"},{"i":144.3,"v":23.5,"s":"Signal"},{"i":147,"v":32.5,"s":"Signal"},{"i":149.7,"v":29,"s":"Signal"},{"i":153.6,"v":40.5,"s":"Signal"},{"i":157.1,"v":46,"s":"Signal"},{"i":159.8,"v":42.7,"s":"Signal"},{"i":167.2,"v":72,"s":"Signal"},{"i":172.1,"v":48.4,"s":"Signal"},{"i":174.3,"v":51.8,"s":"Signal"},{"i":178.1,"v":80,"s":"Signal"},{"i":184.4,"v":66.4,"s":"Signal"},{"i":188,"v":75.5,"s":"Signal"},{"i":193,"v":69.86,"s":"Signal"},
{"i":-0.5,"v":78,"s":"Top"},{"i":58.8,"v":78,"s":"Top"},{"i":60.5,"v":86.4,"s":"Top"},{"i":119.7,"v":86.4,"s":"Top"},{"i":120.8,"v":83,"s":"Top"},{"i":132.8,"v":83,"s":"Top"},{"i":135,"v":79.2,"s":"Top"},{"i":177.2,"v":79.2,"s":"Top"},{"i":177.6,"v":89.8,"s":"Top"},{"i":193,"v":89.8,"s":"Top"},
{"i":-0.5,"v":10.3,"s":"Bottom"},{"i":13,"v":10.3,"s":"Bottom"},{"i":14,"v":5.4,"s":"Bottom"},{"i":74,"v":5.4,"s":"Bottom"},{"i":75,"v":10,"s":"Bottom"},{"i":76.8,"v":24,"s":"Bottom"},{"i":78.3,"v":31.4,"s":"Bottom"},{"i":89.6,"v":31.4,"s":"Bottom"},{"i":90.5,"v":21,"s":"Bottom"},{"i":94.5,"v":21,"s":"Bottom"},{"i":95.5,"v":19,"s":"Bottom"},{"i":135,"v":17.9,"s":"Bottom"},{"i":136,"v":13.86,"s":"Bottom"},{"i":193,"v":13.86,"s":"Bottom"}
],
"trend": [
{"i":0,"p":12.32},{"i":4.1,"p":12.67},{"i":7.7,"p":13.17},{"i":9.1,"p":13.26},{"i":11.4,"p":13.17},{"i":14.1,"p":12.67},{"i":16.8,"p":12.0},{"i":19.6,"p":11.44},{"i":21.4,"p":11.35},{"i":23.2,"p":11.5},{"i":26,"p":12.0},{"i":28.7,"p":12.67},{"i":31.4,"p":13.75},{"i":34.2,"p":14.81},{"i":36.9,"p":15.4},{"i":40.5,"p":15.9},{"i":42.3,"p":16.04},{"i":45.1,"p":16.25},{"i":46.9,"p":16.15},{"i":48.5,"p":15.75},{"i":49.6,"p":15.6},{"i":53.3,"p":14.63},{"i":56,"p":14.37},{"i":58.7,"p":14.72},{"i":62.4,"p":15.69},{"i":65.5,"p":15.1},{"i":67.5,"p":15.0},{"i":69.5,"p":15.5},{"i":71.5,"p":15.88},{"i":74.2,"p":16.83},{"i":77,"p":17.5},{"i":80.6,"p":17.89},{"i":83.3,"p":17.8},{"i":86.1,"p":17.75},{"i":87.9,"p":17.8},{"i":89.7,"p":17.6},{"i":91.5,"p":17.0},{"i":93.4,"p":16.33},{"i":94.7,"p":15.6},{"i":97,"p":14.93},{"i":99.7,"p":14.43},{"i":101.5,"p":14.34},{"i":103.4,"p":14.63},{"i":105.2,"p":15.22},{"i":107,"p":15.84},{"i":109.7,"p":16.28},{"i":112.5,"p":17.0},{"i":115.2,"p":18.3},{"i":118.9,"p":18.56},{"i":121.1,"p":18.45},{"i":124.3,"p":18.15},{"i":128,"p":18.0},{"i":130.7,"p":18.06},{"i":132.5,"p":17.6},{"i":135.2,"p":16.63},{"i":137.1,"p":15.75},{"i":138,"p":15.51},{"i":141.6,"p":15.01},{"i":144.8,"p":14.57},{"i":148,"p":14.78},{"i":150.7,"p":14.8},{"i":153.5,"p":15.01},{"i":157.1,"p":15.51},{"i":159.8,"p":15.65},{"i":163.5,"p":15.9},{"i":164.4,"p":16.25},{"i":167.1,"p":16.92},{"i":169,"p":17.07},{"i":170.8,"p":16.83},{"i":173,"p":16.25},{"i":174.4,"p":16.3},{"i":176.2,"p":17.13},{"i":178,"p":17.8},{"i":180.8,"p":18.48},{"i":185.3,"p":19.2},{"i":189,"p":19.79},{"i":192.6,"p":19.96}
],
"seg": [
{"i1":-0.45,"i2":30,"p":16.24,"k":"Top"},{"i1":30.5,"i2":34.2,"p":14.07,"k":"Top"},{"i1":34.6,"i2":39.2,"p":14.51,"k":"Top"},{"i1":39.6,"i2":61.5,"p":15.14,"k":"Top"},{"i1":61.5,"i2":67.9,"p":15.04,"k":"Top"},{"i1":68.3,"i2":77,"p":15.28,"k":"Top"},{"i1":77.4,"i2":112.9,"p":16.86,"k":"Top"},{"i1":115.7,"i2":117.5,"p":17.15,"k":"Top"},{"i1":119.8,"i2":127.5,"p":17.22,"k":"Top"},{"i1":129.8,"i2":167.6,"p":17.33,"k":"Top"},{"i1":167.7,"i2":177.6,"p":16.34,"k":"Top"},{"i1":177.2,"i2":180.8,"p":17.68,"k":"Top"},{"i1":182.6,"i2":187.6,"p":17.75,"k":"Top"},{"i1":187.6,"i2":193,"p":18.83,"k":"Top"},
{"i1":-0.45,"i2":15.5,"p":13.29,"k":"Bottom"},{"i1":15.9,"i2":90.2,"p":11.7,"k":"Bottom"},{"i1":90.6,"i2":95.2,"p":15.85,"k":"Bottom"},{"i1":95.6,"i2":137,"p":15.07,"k":"Bottom"},{"i1":137.5,"i2":145.3,"p":16.17,"k":"Bottom"},{"i1":145.7,"i2":193,"p":15.6,"k":"Bottom"}
],
"arrB": [
{"i":46,"p":15.46,"dir":"down"},{"i":63.9,"p":15.02,"dir":"down"},{"i":82,"p":17.22,"dir":"down"},{"i":88.8,"p":16.95,"dir":"down"},{"i":120,"p":17.64,"dir":"down"},{"i":131,"p":17.88,"dir":"down"},{"i":170,"p":16.62,"dir":"down"},
{"i":0.6,"p":13.13,"dir":"up"},{"i":21.9,"p":11.78,"dir":"up"},{"i":58,"p":14.36,"dir":"up"},{"i":67.9,"p":14.65,"dir":"up"},{"i":101.8,"p":14.95,"dir":"up"},{"i":147.1,"p":15.62,"dir":"up"},{"i":150.9,"p":15.27,"dir":"up"},{"i":162.1,"p":15.41,"dir":"up"},{"i":174.9,"p":15.93,"dir":"up"}
]
},
"vconcat": [
{
"width": 716, "height": 293,
"resolve": {"scale": {"x": "independent", "y": "independent"}},
"layer": [
{"data": {"name": "prof"}, "mark": {"type": "rect", "color": "#C0C0C0", "stroke": "#C0C0C0", "strokeWidth": 0.8},
 "encoding": {"x": {"field": "len", "type": "quantitative", "scale": {"domain": [0, 777], "range": [777, 0], "nice": false, "zero": false}, "axis": null}, "x2": {"datum": 0},
  "y": {"field": "p1", "type": "quantitative", "scale": {"domain": [11.319, 19.633], "nice": false, "zero": false}, "axis": null}, "y2": {"field": "p2"}}},
{"data": {"name": "d"}, "mark": {"type": "bar", "size": 2, "color": "#FAA88A"},
 "encoding": {"x": {"field": "i", "type": "quantitative", "scale": {"domain": [-0.55, 194.8], "nice": false, "zero": false}, "axis": null},
  "y": {"field": "v", "type": "quantitative", "scale": {"domain": [0, 1172], "nice": false, "zero": false}, "axis": null}, "y2": {"datum": 0}}},
{"data": {"name": "ind"}, "transform": [{"filter": "datum.s == 'Sup-2'"}], "mark": {"type": "line", "color": "#008000", "strokeWidth": 1},
 "encoding": {"x": {"field": "i", "type": "quantitative", "scale": {"domain": [-0.55, 194.8], "nice": false, "zero": false}, "axis": null},
  "y": {"field": "p", "type": "quantitative", "scale": {"domain": [11.319, 19.633], "nice": false, "zero": false}, "axis": null}}},
{"data": {"name": "ind"}, "transform": [{"filter": "datum.s == 'Res-2'"}], "mark": {"type": "line", "color": "#FF0000", "strokeWidth": 1},
 "encoding": {"x": {"field": "i", "type": "quantitative", "scale": {"domain": [-0.55, 194.8], "nice": false, "zero": false}, "axis": null},
  "y": {"field": "p", "type": "quantitative", "scale": {"domain": [11.319, 19.633], "nice": false, "zero": false}, "axis": null}}},
{"data": {"name": "ind"}, "transform": [{"filter": "datum.s == 'Sup-1'"}], "mark": {"type": "line", "color": "#0000FF", "strokeWidth": 1},
 "encoding": {"x": {"field": "i", "type": "quantitative", "scale": {"domain": [-0.55, 194.8], "nice": false, "zero": false}, "axis": null},
  "y": {"field": "p", "type": "quantitative", "scale": {"domain": [11.319, 19.633], "nice": false, "zero": false}, "axis": null}}},
{"data": {"name": "ind"}, "transform": [{"filter": "datum.s == 'Res-1'"}], "mark": {"type": "line", "color": "#FF00FF", "strokeWidth": 1},
 "encoding": {"x": {"field": "i", "type": "quantitative", "scale": {"domain": [-0.55, 194.8], "nice": false, "zero": false}, "axis": null},
  "y": {"field": "p", "type": "quantitative", "scale": {"domain": [11.319, 19.633], "nice": false, "zero": false}, "axis": null}}},
{"data": {"name": "d"}, "mark": {"type": "rule", "color": "black", "strokeWidth": 1},
 "encoding": {"x": {"field": "i", "type": "quantitative", "scale": {"domain": [-0.55, 194.8], "nice": false, "zero": false},
   "axis": {"orient": "bottom", "values": [-0.55, 11, 32, 53, 73, 95, 116, 137, 160, 179], "labelExpr": "datum.value < 0 ? 'Mar' : datum.value < 20 ? 'Apr' : datum.value < 40 ? 'May' : datum.value < 60 ? 'Jun' : datum.value < 80 ? 'Jul' : datum.value < 100 ? 'Aug' : datum.value < 120 ? 'Sep' : datum.value < 150 ? 'Oct' : datum.value < 170 ? 'Nov' : 'Dec'", "labelAlign": "left", "labelBaseline": "alphabetic", "labelOffset": 3, "labelPadding": 8, "tickSize": 6, "labelFontSize": 11.5, "grid": false, "title": null, "labelFlush": false, "labelOverlap": false, "zindex": 1}},
  "y": {"field": "l", "type": "quantitative", "scale": {"domain": [11.319, 19.633], "nice": false, "zero": false},
   "axis": {"orient": "right", "values": [12, 13, 14, 15, 16, 17, 18, 19], "grid": true, "ticks": false, "labelPadding": 43, "labelFontSize": 13.3, "title": null, "zindex": 1, "labelFlush": false, "labelOverlap": false}},
  "y2": {"field": "h"}}},
{"data": {"name": "d"}, "mark": {"type": "bar", "size": 2.6, "stroke": "black", "strokeWidth": 1},
 "encoding": {"x": {"field": "i", "type": "quantitative", "scale": {"domain": [-0.55, 194.8], "nice": false, "zero": false}, "axis": null},
  "y": {"field": "o", "type": "quantitative", "scale": {"domain": [11.319, 19.633], "nice": false, "zero": false}, "axis": null}, "y2": {"field": "c"},
  "fill": {"condition": {"test": "datum.c >= datum.o", "value": "white"}, "value": "black"}}},
{"data": {"name": "arrT"}, "mark": {"type": "point", "filled": true, "size": 225, "opacity": 1, "strokeWidth": 0},
 "encoding": {"x": {"field": "i", "type": "quantitative", "scale": {"domain": [-0.55, 194.8], "nice": false, "zero": false}, "axis": null},
  "y": {"field": "p", "type": "quantitative", "scale": {"domain": [11.319, 19.633], "nice": false, "zero": false}, "axis": null},
  "shape": {"field": "dir", "type": "nominal", "scale": {"domain": ["down", "up"], "range": ["M-0.22,-1L0.22,-1L0.22,0.05L0.6,0.05L0,1L-0.6,0.05L-0.22,0.05Z", "M-0.22,1L0.22,1L0.22,-0.05L0.6,-0.05L0,-1L-0.6,-0.05L-0.22,-0.05Z"]}, "legend": null},
  "color": {"field": "dir", "type": "nominal", "scale": {"domain": ["down", "up"], "range": ["#FF0000", "#008800"]}, "legend": null}}},
{"data": {"values": [{}]}, "mark": {"type": "text", "align": "left", "baseline": "middle", "fontSize": 12, "color": "black", "text": "SHBI - Daily 2025-12-19 Open 18.71\u00a0\u00a0High 18.865\u00a0\u00a0Low 18.35\u00a0\u00a0Close 18.53 (-1.6%)"},
 "encoding": {"x": {"datum": 1.36, "type": "quantitative", "scale": {"domain": [-0.55, 194.8], "nice": false, "zero": false}, "axis": null}, "y": {"datum": 19.576, "type": "quantitative", "scale": {"domain": [11.319, 19.633], "nice": false, "zero": false}, "axis": null}}},
{"data": {"values": [{}]}, "mark": {"type": "text", "align": "left", "baseline": "middle", "fontSize": 12, "color": "black", "text": "Vol 270,342"},
 "encoding": {"x": {"datum": 1.36, "type": "quantitative", "scale": {"domain": [-0.55, 194.8], "nice": false, "zero": false}, "axis": null}, "y": {"datum": 19.159, "type": "quantitative", "scale": {"domain": [11.319, 19.633], "nice": false, "zero": false}, "axis": null}}},
{"data": {"values": [{}]}, "mark": {"type": "text", "align": "left", "baseline": "middle", "fontSize": 12, "color": "#FF00FF", "text": "Res-1"},
 "encoding": {"x": {"datum": 19.99, "type": "quantitative", "scale": {"domain": [-0.55, 194.8], "nice": false, "zero": false}, "axis": null}, "y": {"datum": 19.159, "type": "quantitative", "scale": {"domain": [11.319, 19.633], "nice": false, "zero": false}, "axis": null}}},
{"data": {"values": [{}]}, "mark": {"type": "text", "align": "left", "baseline": "middle", "fontSize": 12, "color": "black", "text": "= 18.67,"},
 "encoding": {"x": {"datum": 30.28, "type": "quantitative", "scale": {"domain": [-0.55, 194.8], "nice": false, "zero": false}, "axis": null}, "y": {"datum": 19.159, "type": "quantitative", "scale": {"domain": [11.319, 19.633], "nice": false, "zero": false}, "axis": null}}},
{"data": {"values": [{}]}, "mark": {"type": "text", "align": "left", "baseline": "middle", "fontSize": 12, "color": "#FF0000", "text": "Res-2"},
 "encoding": {"x": {"datum": 42.91, "type": "quantitative", "scale": {"domain": [-0.55, 194.8], "nice": false, "zero": false}, "axis": null}, "y": {"datum": 19.159, "type": "quantitative", "scale": {"domain": [11.319, 19.633], "nice": false, "zero": false}, "axis": null}}},
{"data": {"values": [{}]}, "mark": {"type": "text", "align": "left", "baseline": "middle", "fontSize": 12, "color": "black", "text": "= 18.67,"},
 "encoding": {"x": {"datum": 53.2, "type": "quantitative", "scale": {"domain": [-0.55, 194.8], "nice": false, "zero": false}, "axis": null}, "y": {"datum": 19.159, "type": "quantitative", "scale": {"domain": [11.319, 19.633], "nice": false, "zero": false}, "axis": null}}},
{"data": {"values": [{}]}, "mark": {"type": "text", "align": "left", "baseline": "middle", "fontSize": 12, "color": "#0000FF", "text": "Sup-1"},
 "encoding": {"x": {"datum": 65.94, "type": "quantitative", "scale": {"domain": [-0.55, 194.8], "nice": false, "zero": false}, "axis": null}, "y": {"datum": 19.159, "type": "quantitative", "scale": {"domain": [11.319, 19.633], "nice": false, "zero": false}, "axis": null}}},
{"data": {"values": [{}]}, "mark": {"type": "text", "align": "left", "baseline": "middle", "fontSize": 12, "color": "black", "text": "= 17.27,"},
 "encoding": {"x": {"datum": 75.92, "type": "quantitative", "scale": {"domain": [-0.55, 194.8], "nice": false, "zero": false}, "axis": null}, "y": {"datum": 19.159, "type": "quantitative", "scale": {"domain": [11.319, 19.633], "nice": false, "zero": false}, "axis": null}}},
{"data": {"values": [{}]}, "mark": {"type": "text", "align": "left", "baseline": "middle", "fontSize": 12, "color": "#008000", "text": "Sup-2"},
 "encoding": {"x": {"datum": 88.67, "type": "quantitative", "scale": {"domain": [-0.55, 194.8], "nice": false, "zero": false}, "axis": null}, "y": {"datum": 19.159, "type": "quantitative", "scale": {"domain": [11.319, 19.633], "nice": false, "zero": false}, "axis": null}}},
{"data": {"values": [{}]}, "mark": {"type": "text", "align": "left", "baseline": "middle", "fontSize": 12, "color": "black", "text": "= 15.66"},
 "encoding": {"x": {"datum": 98.68, "type": "quantitative", "scale": {"domain": [-0.55, 194.8], "nice": false, "zero": false}, "axis": null}, "y": {"datum": 19.159, "type": "quantitative", "scale": {"domain": [11.319, 19.633], "nice": false, "zero": false}, "axis": null}}},
{"data": {"values": [{}]}, "mark": {"type": "rule", "color": "black", "strokeWidth": 1},
 "encoding": {"x": {"datum": -0.55, "type": "quantitative", "scale": {"domain": [-0.55, 194.8], "nice": false, "zero": false}, "axis": null}, "y": {"datum": 11.319, "type": "quantitative", "scale": {"domain": [11.319, 19.633], "nice": false, "zero": false}, "axis": null}, "y2": {"datum": 19.633}}},
{"data": {"values": [{}]}, "mark": {"type": "rule", "color": "black", "strokeWidth": 1},
 "encoding": {"x": {"datum": -0.55, "type": "quantitative", "scale": {"domain": [-0.55, 194.8], "nice": false, "zero": false}, "axis": null}, "x2": {"datum": 0.81}, "y": {"datum": 19.633, "type": "quantitative", "scale": {"domain": [11.319, 19.633], "nice": false, "zero": false}, "axis": null}}},
{"data": {"values": [{}]}, "mark": {"type": "rule", "color": "black", "strokeWidth": 1},
 "encoding": {"x": {"datum": 126.04, "type": "quantitative", "scale": {"domain": [-0.55, 194.8], "nice": false, "zero": false}, "axis": null}, "x2": {"datum": 194.8}, "y": {"datum": 19.633, "type": "quantitative", "scale": {"domain": [11.319, 19.633], "nice": false, "zero": false}, "axis": null}}}
]
},
{
"width": 716, "height": 97,
"resolve": {"scale": {"x": "independent", "y": "independent"}},
"layer": [
{"data": {"name": "osc"}, "transform": [{"filter": "datum.s == 'Top' || datum.s == 'Bottom'"}], "mark": {"type": "line", "color": "black", "strokeWidth": 1.3},
 "encoding": {"x": {"field": "i", "type": "quantitative", "scale": {"domain": [-0.55, 194.8], "nice": false, "zero": false},
   "axis": {"orient": "bottom", "labels": false, "ticks": false, "domain": true, "grid": false, "title": null}},
  "y": {"field": "v", "type": "quantitative", "scale": {"domain": [-0.3, 109.5], "nice": false, "zero": false},
   "axis": {"orient": "right", "values": [20, 40, 60, 80], "grid": true, "ticks": false, "domain": false, "labelPadding": 43, "labelFontSize": 13.3, "title": null, "labelFlush": false, "labelOverlap": false}},
  "detail": {"field": "s", "type": "nominal"}}},
{"data": {"name": "osc"}, "transform": [{"filter": "datum.s == 'Signal'"}], "mark": {"type": "line", "color": "#0000FF", "strokeWidth": 1.2, "interpolate": "monotone"},
 "encoding": {"x": {"field": "i", "type": "quantitative", "scale": {"domain": [-0.55, 194.8], "nice": false, "zero": false}, "axis": null},
  "y": {"field": "v", "type": "quantitative", "scale": {"domain": [-0.3, 109.5], "nice": false, "zero": false}, "axis": null}}},
{"data": {"name": "osc"}, "transform": [{"filter": "datum.s == 'Line'"}], "mark": {"type": "line", "color": "#FF0000", "strokeWidth": 1.2, "interpolate": "monotone"},
 "encoding": {"x": {"field": "i", "type": "quantitative", "scale": {"domain": [-0.55, 194.8], "nice": false, "zero": false}, "axis": null},
  "y": {"field": "v", "type": "quantitative", "scale": {"domain": [-0.3, 109.5], "nice": false, "zero": false}, "axis": null}}},
{"data": {"values": [{}]}, "mark": {"type": "text", "align": "left", "baseline": "middle", "fontSize": 12, "color": "black", "text": "SHBI -"},
 "encoding": {"x": {"datum": 1.36, "type": "quantitative", "scale": {"domain": [-0.55, 194.8], "nice": false, "zero": false}, "axis": null}, "y": {"datum": 95.69, "type": "quantitative", "scale": {"domain": [-0.3, 109.5], "nice": false, "zero": false}, "axis": null}}},
{"data": {"values": [{}]}, "mark": {"type": "text", "align": "left", "baseline": "middle", "fontSize": 12, "color": "#FF0000", "text": "Line"},
 "encoding": {"x": {"datum": 12.0, "type": "quantitative", "scale": {"domain": [-0.55, 194.8], "nice": false, "zero": false}, "axis": null}, "y": {"datum": 95.69, "type": "quantitative", "scale": {"domain": [-0.3, 109.5], "nice": false, "zero": false}, "axis": null}}},
{"data": {"values": [{}]}, "mark": {"type": "text", "align": "left", "baseline": "middle", "fontSize": 12, "color": "black", "text": "= 65.54, Top = 89.80, Bottom = 13.86,"},
 "encoding": {"x": {"datum": 19.09, "type": "quantitative", "scale": {"domain": [-0.55, 194.8], "nice": false, "zero": false}, "axis": null}, "y": {"datum": 95.69, "type": "quantitative", "scale": {"domain": [-0.3, 109.5], "nice": false, "zero": false}, "axis": null}}},
{"data": {"values": [{}]}, "mark": {"type": "text", "align": "left", "baseline": "middle", "fontSize": 12, "color": "#0000FF", "text": "Signal"},
 "encoding": {"x": {"datum": 75.76, "type": "quantitative", "scale": {"domain": [-0.55, 194.8], "nice": false, "zero": false}, "axis": null}, "y": {"datum": 95.69, "type": "quantitative", "scale": {"domain": [-0.3, 109.5], "nice": false, "zero": false}, "axis": null}}},
{"data": {"values": [{}]}, "mark": {"type": "text", "align": "left", "baseline": "middle", "fontSize": 12, "color": "black", "text": "= 69.86"},
 "encoding": {"x": {"datum": 85.75, "type": "quantitative", "scale": {"domain": [-0.55, 194.8], "nice": false, "zero": false}, "axis": null}, "y": {"datum": 95.69, "type": "quantitative", "scale": {"domain": [-0.3, 109.5], "nice": false, "zero": false}, "axis": null}}},
{"data": {"values": [{}]}, "mark": {"type": "rule", "color": "black", "strokeWidth": 1},
 "encoding": {"x": {"datum": -0.55, "type": "quantitative", "scale": {"domain": [-0.55, 194.8], "nice": false, "zero": false}, "axis": null}, "y": {"datum": -0.3, "type": "quantitative", "scale": {"domain": [-0.3, 109.5], "nice": false, "zero": false}, "axis": null}, "y2": {"datum": 97.05}}},
{"data": {"values": [{}]}, "mark": {"type": "rule", "color": "black", "strokeWidth": 1},
 "encoding": {"x": {"datum": 194.8, "type": "quantitative", "scale": {"domain": [-0.55, 194.8], "nice": false, "zero": false}, "axis": null}, "y": {"datum": -0.3, "type": "quantitative", "scale": {"domain": [-0.3, 109.5], "nice": false, "zero": false}, "axis": null}, "y2": {"datum": 97.05}}},
{"data": {"values": [{}]}, "mark": {"type": "rule", "color": "black", "strokeWidth": 1},
 "encoding": {"x": {"datum": -0.55, "type": "quantitative", "scale": {"domain": [-0.55, 194.8], "nice": false, "zero": false}, "axis": null}, "x2": {"datum": 0.81}, "y": {"datum": 97.05, "type": "quantitative", "scale": {"domain": [-0.3, 109.5], "nice": false, "zero": false}, "axis": null}}},
{"data": {"values": [{}]}, "mark": {"type": "rule", "color": "black", "strokeWidth": 1},
 "encoding": {"x": {"datum": 97.4, "type": "quantitative", "scale": {"domain": [-0.55, 194.8], "nice": false, "zero": false}, "axis": null}, "x2": {"datum": 194.8}, "y": {"datum": 97.05, "type": "quantitative", "scale": {"domain": [-0.3, 109.5], "nice": false, "zero": false}, "axis": null}}}
]
},
{
"width": 716, "height": 314,
"resolve": {"scale": {"x": "independent", "y": "independent"}},
"layer": [
{"data": {"name": "seg"}, "mark": {"type": "rule", "strokeWidth": 3, "strokeDash": [7, 2, 2, 2], "strokeCap": "butt"},
 "encoding": {"x": {"field": "i1", "type": "quantitative", "scale": {"domain": [-0.55, 194.8], "nice": false, "zero": false}, "axis": null}, "x2": {"field": "i2"},
  "y": {"field": "p", "type": "quantitative", "scale": {"domain": [11.18, 20.38], "nice": false, "zero": false}, "axis": null},
  "color": {"field": "k", "type": "nominal", "scale": {"domain": ["Top", "Bottom"], "range": ["#FF0000", "#008800"]}, "legend": null}}},
{"data": {"name": "trend"}, "mark": {"type": "line", "color": "#0000FF", "strokeWidth": 1, "interpolate": "monotone"},
 "encoding": {"x": {"field": "i", "type": "quantitative", "scale": {"domain": [-0.55, 194.8], "nice": false, "zero": false}, "axis": null},
  "y": {"field": "p", "type": "quantitative", "scale": {"domain": [11.18, 20.38], "nice": false, "zero": false}, "axis": null}}},
{"data": {"name": "d"}, "mark": {"type": "rule", "color": "black", "strokeWidth": 1},
 "encoding": {"x": {"field": "i", "type": "quantitative", "scale": {"domain": [-0.55, 194.8], "nice": false, "zero": false},
   "axis": {"orient": "bottom", "values": [-0.55, 11, 32, 53, 73, 95, 116, 137, 160, 179], "labelExpr": "datum.value < 0 ? 'Mar' : datum.value < 20 ? 'Apr' : datum.value < 40 ? 'May' : datum.value < 60 ? 'Jun' : datum.value < 80 ? 'Jul' : datum.value < 100 ? 'Aug' : datum.value < 120 ? 'Sep' : datum.value < 150 ? 'Oct' : datum.value < 170 ? 'Nov' : 'Dec'", "labelAlign": "left", "labelBaseline": "alphabetic", "labelOffset": 3, "labelPadding": 6, "tickSize": 6, "labelFontSize": 11.5, "grid": false, "title": null, "labelFlush": false, "labelOverlap": false}},
  "y": {"field": "l", "type": "quantitative", "scale": {"domain": [11.18, 20.38], "nice": false, "zero": false},
   "axis": {"orient": "right", "values": [12, 13, 14, 15, 16, 17, 18, 19, 20], "grid": true, "ticks": false, "labelPadding": 43, "labelFontSize": 13.3, "title": null, "labelFlush": false, "labelOverlap": false}},
  "y2": {"field": "h"}}},
{"data": {"name": "d"}, "mark": {"type": "bar", "size": 2.6, "stroke": "black", "strokeWidth": 1},
 "encoding": {"x": {"field": "i", "type": "quantitative", "scale": {"domain": [-0.55, 194.8], "nice": false, "zero": false}, "axis": null},
  "y": {"field": "o", "type": "quantitative", "scale": {"domain": [11.18, 20.38], "nice": false, "zero": false}, "axis": null}, "y2": {"field": "c"},
  "fill": {"condition": {"test": "datum.c >= datum.o", "value": "white"}, "value": "black"}}},
{"data": {"name": "arrB"}, "mark": {"type": "point", "filled": true, "size": 225, "opacity": 1, "strokeWidth": 0},
 "encoding": {"x": {"field": "i", "type": "quantitative", "scale": {"domain": [-0.55, 194.8], "nice": false, "zero": false}, "axis": null},
  "y": {"field": "p", "type": "quantitative", "scale": {"domain": [11.18, 20.38], "nice": false, "zero": false}, "axis": null},
  "shape": {"field": "dir", "type": "nominal", "scale": {"domain": ["down", "up"], "range": ["M-0.22,-1L0.22,-1L0.22,0.05L0.6,0.05L0,1L-0.6,0.05L-0.22,0.05Z", "M-0.22,1L0.22,1L0.22,-0.05L0.6,-0.05L0,-1L-0.6,-0.05L-0.22,-0.05Z"]}, "legend": null},
  "color": {"field": "dir", "type": "nominal", "scale": {"domain": ["down", "up"], "range": ["#FF0000", "#008800"]}, "legend": null}}},
{"data": {"values": [{}]}, "mark": {"type": "text", "align": "left", "baseline": "middle", "fontSize": 12, "color": "black", "text": "SHBI - Daily 2025-12-19 Open 18.71,Hi 18.865,Lo 18.35, Close 18.53 (-1.6%)"},
 "encoding": {"x": {"datum": 1.36, "type": "quantitative", "scale": {"domain": [-0.55, 194.8], "nice": false, "zero": false}, "axis": null}, "y": {"datum": 20.336, "type": "quantitative", "scale": {"domain": [11.18, 20.38], "nice": false, "zero": false}, "axis": null}}},
{"data": {"values": [{}]}, "mark": {"type": "text", "align": "left", "baseline": "middle", "fontSize": 12, "color": "black", "text": "Vol 27,034,200"},
 "encoding": {"x": {"datum": 1.36, "type": "quantitative", "scale": {"domain": [-0.55, 194.8], "nice": false, "zero": false}, "axis": null}, "y": {"datum": 19.943, "type": "quantitative", "scale": {"domain": [11.18, 20.38], "nice": false, "zero": false}, "axis": null}}},
{"data": {"values": [{}]}, "mark": {"type": "text", "align": "left", "baseline": "middle", "fontSize": 12, "color": "#FF0000", "text": "Top"},
 "encoding": {"x": {"datum": 24.82, "type": "quantitative", "scale": {"domain": [-0.55, 194.8], "nice": false, "zero": false}, "axis": null}, "y": {"datum": 19.943, "type": "quantitative", "scale": {"domain": [11.18, 20.38], "nice": false, "zero": false}, "axis": null}}},
{"data": {"values": [{}]}, "mark": {"type": "text", "align": "left", "baseline": "middle", "fontSize": 12, "color": "black", "text": "= 18.83,"},
 "encoding": {"x": {"datum": 31.56, "type": "quantitative", "scale": {"domain": [-0.55, 194.8], "nice": false, "zero": false}, "axis": null}, "y": {"datum": 19.943, "type": "quantitative", "scale": {"domain": [11.18, 20.38], "nice": false, "zero": false}, "axis": null}}},
{"data": {"values": [{}]}, "mark": {"type": "text", "align": "left", "baseline": "middle", "fontSize": 12, "color": "#008000", "text": "Bottom"},
 "encoding": {"x": {"datum": 43.92, "type": "quantitative", "scale": {"domain": [-0.55, 194.8], "nice": false, "zero": false}, "axis": null}, "y": {"datum": 19.943, "type": "quantitative", "scale": {"domain": [11.18, 20.38], "nice": false, "zero": false}, "axis": null}}},
{"data": {"values": [{}]}, "mark": {"type": "text", "align": "left", "baseline": "middle", "fontSize": 12, "color": "black", "text": "= 15.60,"},
 "encoding": {"x": {"datum": 55.74, "type": "quantitative", "scale": {"domain": [-0.55, 194.8], "nice": false, "zero": false}, "axis": null}, "y": {"datum": 19.943, "type": "quantitative", "scale": {"domain": [11.18, 20.38], "nice": false, "zero": false}, "axis": null}}},
{"data": {"values": [{}]}, "mark": {"type": "text", "align": "left", "baseline": "middle", "fontSize": 12, "color": "#0000FF", "text": "Trend"},
 "encoding": {"x": {"datum": 68.48, "type": "quantitative", "scale": {"domain": [-0.55, 194.8], "nice": false, "zero": false}, "axis": null}, "y": {"datum": 19.943, "type": "quantitative", "scale": {"domain": [11.18, 20.38], "nice": false, "zero": false}, "axis": null}}},
{"data": {"values": [{}]}, "mark": {"type": "text", "align": "left", "baseline": "middle", "fontSize": 12, "color": "black", "text": "= 19.96"},
 "encoding": {"x": {"datum": 78.22, "type": "quantitative", "scale": {"domain": [-0.55, 194.8], "nice": false, "zero": false}, "axis": null}, "y": {"datum": 19.943, "type": "quantitative", "scale": {"domain": [11.18, 20.38], "nice": false, "zero": false}, "axis": null}}},
{"data": {"values": [{}]}, "mark": {"type": "rule", "color": "black", "strokeWidth": 1},
 "encoding": {"x": {"datum": -0.55, "type": "quantitative", "scale": {"domain": [-0.55, 194.8], "nice": false, "zero": false}, "axis": null}, "y": {"datum": 11.18, "type": "quantitative", "scale": {"domain": [11.18, 20.38], "nice": false, "zero": false}, "axis": null}, "y2": {"datum": 20.38}}},
{"data": {"values": [{}]}, "mark": {"type": "rule", "color": "black", "strokeWidth": 1},
 "encoding": {"x": {"datum": -0.55, "type": "quantitative", "scale": {"domain": [-0.55, 194.8], "nice": false, "zero": false}, "axis": null}, "x2": {"datum": 0.81}, "y": {"datum": 20.38, "type": "quantitative", "scale": {"domain": [11.18, 20.38], "nice": false, "zero": false}, "axis": null}}},
{"data": {"values": [{}]}, "mark": {"type": "rule", "color": "black", "strokeWidth": 1},
 "encoding": {"x": {"datum": 118.13, "type": "quantitative", "scale": {"domain": [-0.55, 194.8], "nice": false, "zero": false}, "axis": null}, "x2": {"datum": 194.8}, "y": {"datum": 20.38, "type": "quantitative", "scale": {"domain": [11.18, 20.38], "nice": false, "zero": false}, "axis": null}}}
]
}
]
}
